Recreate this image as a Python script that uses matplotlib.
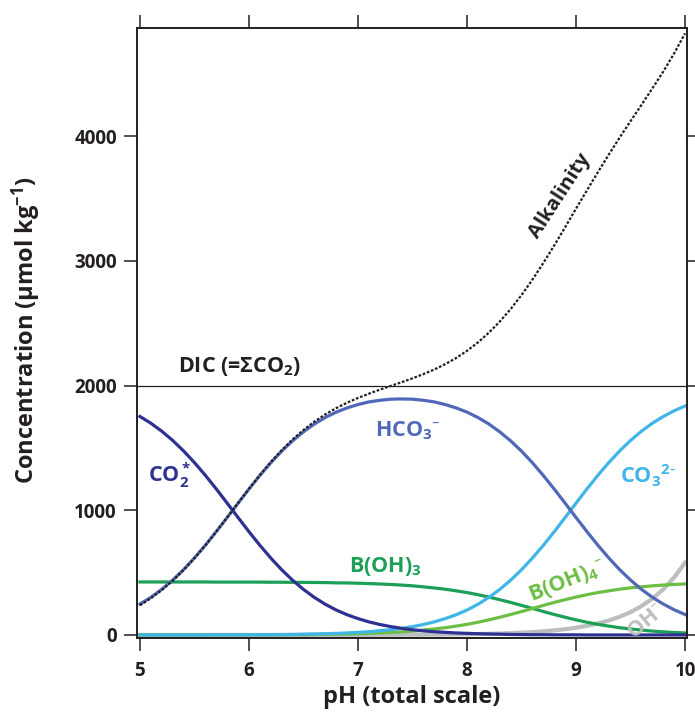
import matplotlib
matplotlib.use("Agg")
import matplotlib.pyplot as plt
import numpy as np

plt.rcParams['font.family'] = ['Open Sans', 'DejaVu Sans']
plt.rcParams['mathtext.default'] = 'regular'

# values (umol/kg), every 0.1 pH unit
ph = [5.0, 5.1, 5.2, 5.3, 5.4, 5.5, 5.6, 5.7, 5.8, 5.9,
      6.0, 6.1, 6.2, 6.3, 6.4, 6.5, 6.6, 6.7, 6.8, 6.9,
      7.0, 7.1, 7.2, 7.3, 7.4, 7.5, 7.6, 7.7, 7.8, 7.9,
      8.0, 8.1, 8.2, 8.3, 8.4, 8.5, 8.6, 8.7, 8.8, 8.9,
      9.0, 9.1, 9.2, 9.3, 9.4, 9.5, 9.6, 9.7, 9.8, 9.9, 10.0]
co2 = [1752, 1698, 1634, 1560, 1476, 1382, 1280, 1171, 1057, 942,
       828, 719, 617, 523, 439, 365, 301, 246, 200, 162,
       131, 105, 84, 67, 53, 42, 33, 26, 21, 16,
       13, 10, 8, 6, 4, 3, 2, 2, 1, 1,
       1, 0, 0, 0, 0, 0, 0, 0, 0, 0, 0]
hco3 = [248, 302, 366, 440, 524, 618, 720, 829, 942, 1057,
        1170, 1279, 1381, 1474, 1557, 1629, 1692, 1744, 1787, 1821,
        1848, 1869, 1882, 1891, 1893, 1891, 1882, 1869, 1848, 1821,
        1787, 1744, 1692, 1629, 1557, 1474, 1381, 1279, 1170, 1057,
        942, 829, 720, 618, 524, 440, 366, 302, 248, 202, 164]
co3 = [0, 0, 0, 0, 0, 0, 0, 1, 1, 1,
       1, 2, 2, 3, 4, 6, 8, 10, 13, 16,
       21, 26, 34, 42, 53, 67, 84, 105, 131, 162,
       200, 246, 301, 365, 439, 523, 617, 719, 828, 942,
       1057, 1171, 1280, 1382, 1476, 1560, 1634, 1698, 1752, 1798, 1836]
boh3 = [425, 425, 425, 425, 425, 425, 425, 424, 424, 424,
        424, 424, 423, 423, 422, 422, 421, 420, 418, 417,
        415, 412, 409, 405, 400, 394, 386, 377, 367, 354,
        340, 323, 304, 283, 261, 237, 213, 188, 164, 142,
        121, 102, 85, 71, 58, 48, 39, 31, 25, 20, 16]
boh4 = [0, 0, 0, 0, 0, 0, 0, 1, 1, 1,
        1, 1, 2, 2, 3, 3, 4, 5, 7, 8,
        10, 13, 16, 20, 25, 31, 39, 48, 58, 71,
        85, 102, 121, 142, 164, 188, 212, 237, 261, 283,
        304, 323, 340, 354, 367, 378, 386, 394, 400, 405, 409]
oh = [0, 0, 0, 0, 0, 0, 0, 0, 0, 0,
      0, 0, 0, 0, 0, 0, 0, 0, 0, 0.5,
      0.6, 0.7, 0.9, 1.2, 1.5, 1.8, 2.3, 2.9, 3.7, 4.6,
      5.8, 7.3, 9.2, 11.6, 14.6, 18.3, 23.1, 29.1, 36.6, 46.1,
      58, 73, 92, 116, 146, 183, 231, 291, 366, 461, 580]
alk = [238, 294, 360, 435, 520, 615, 718, 828, 943, 1058,
       1173, 1283, 1387, 1482, 1568, 1644, 1711, 1769, 1819, 1863,
       1901, 1935, 1967, 1997, 2027, 2058, 2092, 2129, 2172, 2221,
       2279, 2346, 2424, 2513, 2613, 2726, 2850, 2983, 3124, 3270,
       3419, 3566, 3711, 3852, 3989, 4121, 4251, 4383, 4518, 4664, 4825]
dic = 2000

c_co2 = '#2e3192'
c_hco3 = '#5068b7'
c_co3 = '#3fb5e8'
c_boh3 = '#1c9f57'
c_boh4 = '#6cbe45'
c_oh = '#bcbec0'
c_k = '#231f20'

fig = plt.figure(figsize=(6.95, 7.12), dpi=100)
ax = fig.add_axes([0.197, 0.104, 0.7915, 0.8567])

lw = 2.3
ax.plot(ph, oh, color=c_oh, lw=lw + 0.7)
ax.plot(ph, boh3, color=c_boh3, lw=lw)
ax.plot(ph, boh4, color=c_boh4, lw=lw)
ax.plot(ph, co3, color=c_co3, lw=lw)
ax.plot(ph, hco3, color=c_hco3, lw=lw)
ax.plot(ph, co2, color=c_co2, lw=lw)
ax.axhline(dic, color=c_k, lw=0.9)
ax.plot(ph, alk, color=c_k, lw=1.6, linestyle=(0, (1.2, 0.8)))

ax.set_xlim(4.972, 10.018)
ax.set_ylim(-24, 4868)
ax.set_xticks([5, 6, 7, 8, 9, 10])
ax.set_yticks([0, 1000, 2000, 3000, 4000])

ax.tick_params(direction='out', length=9.5, width=1.1, top=True, right=True,
               labeltop=False, labelright=False, labelsize=13.5, colors=c_k)
ax.tick_params(axis='x', pad=7)
ax.tick_params(axis='y', pad=5)
for lab in ax.get_xticklabels() + ax.get_yticklabels():
    lab.set_fontweight('bold')
for s in ax.spines.values():
    s.set_linewidth(1.4)
    s.set_color(c_k)

ax.set_xlabel('pH (total scale)', fontsize=17, fontweight='bold', color=c_k)
ax.xaxis.set_label_coords(0.5, -0.077)
ax.set_ylabel('Concentration (µmol kg$^{-1}$)', fontsize=17, fontweight='bold', color=c_k)
ax.yaxis.set_label_coords(-0.171, 0.505)

fs = 15.5
dash = r'\text{–}'
ax.text(5.35, 2060, 'DIC (=ΣCO$_2$)', fontsize=fs, fontweight='bold', color=c_k, va='bottom')
ax.text(5.07, 1280, 'CO$_2^*$', fontsize=fs, fontweight='bold', color=c_co2, va='center')
ax.text(7.16, 1640, 'HCO$_3$$^{' + dash + '}$', fontsize=fs, fontweight='bold', color=c_hco3, va='center')
ax.text(9.40, 1275, r'CO$_3$$^{2\text{-}}$', fontsize=fs, fontweight='bold', color=c_co3, va='center')
ax.text(6.92, 553, 'B(OH)$_3$', fontsize=fs, fontweight='bold', color=c_boh3, va='center')
ax.text(8.92, 430, 'B(OH)$_4$$^{' + dash + '}$', fontsize=fs, fontweight='bold', color=c_boh4,
        va='center', ha='center', rotation=22)
ax.text(9.65, 108, 'OH$^{' + dash + '}$', fontsize=fs, fontweight='bold', color=c_oh,
        va='center', ha='center', rotation=40)
ax.text(8.85, 3520, 'Alkalinity', fontsize=14.5, fontweight='bold', color=c_k,
        va='center', ha='center', rotation=57)

fig.savefig('out.png', dpi=100)
